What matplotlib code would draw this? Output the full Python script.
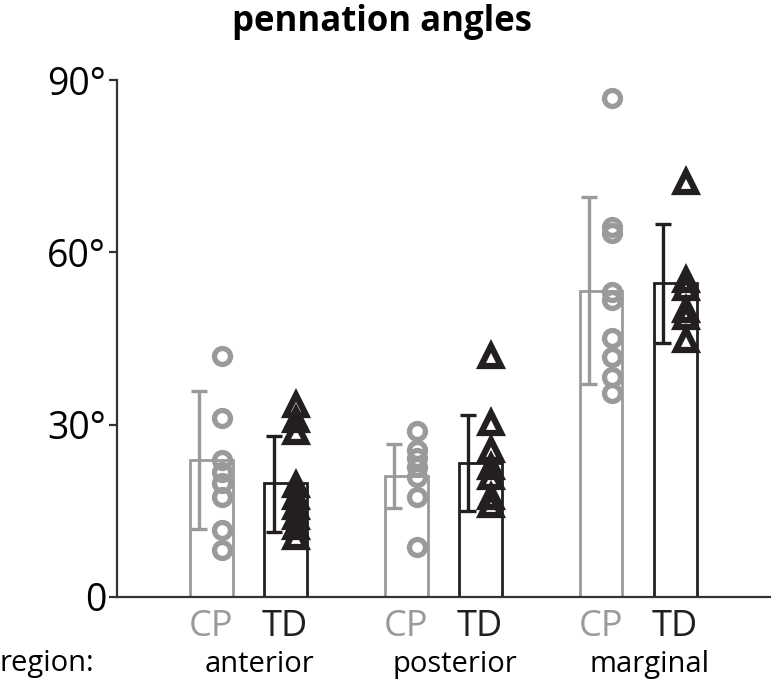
import matplotlib
matplotlib.use("Agg")
import matplotlib.pyplot as plt
import numpy as np

plt.rcParams['font.family'] = ['Open Sans', 'DejaVu Sans']

regions = ['anterior', 'posterior', 'marginal']
groups = ['CP', 'TD']

# bar means and error bar limits (degrees)
cp_mean = [23.8, 21.1, 53.3]
td_mean = [19.8, 23.3, 54.7]
cp_err_hi = [35.9, 26.6, 69.6]
cp_err_lo = [11.8, 15.5, 37.1]
td_err_hi = [28.0, 31.7, 64.9]
td_err_lo = [11.3, 15.0, 44.2]

# individual subjects
cp_points = [
    [42.0, 31.2, 23.9, 21.8, 19.8, 17.4, 11.7, 8.2],
    [28.9, 25.6, 24.2, 22.7, 20.9, 17.4, 8.7],
    [86.9, 64.4, 63.3, 53.1, 51.7, 45.1, 41.8, 38.3, 35.5],
]
td_points = [
    [33.4, 30.8, 28.7, 19.5, 17.4, 15.7, 13.9, 12.2, 10.4],
    [42.0, 30.3, 25.6, 22.7, 20.9, 17.4, 16.0],
    [72.2, 55.2, 53.8, 50.0, 48.8, 44.7],
]

cp_color = '#9a9a9a'
td_color = '#231f20'

fig = plt.figure(figsize=(7.71, 6.85), dpi=100)
ax = fig.add_axes([0.152, 0.1285, 0.848, 0.7545])

x = np.arange(len(regions))
off = 0.19
width = 0.22

for means, lo, hi, pts, sign, col, mk in [
        (cp_mean, cp_err_lo, cp_err_hi, cp_points, -1, cp_color, 'o'),
        (td_mean, td_err_lo, td_err_hi, td_points, 1, td_color, '^')]:
    xs = x + sign * off
    ax.bar(xs, means, width=width, facecolor='white', edgecolor=col, linewidth=2.0, zorder=1)
    means = np.array(means)
    yerr = [means - np.array(lo), np.array(hi) - means]
    ax.errorbar(xs - 0.06, means, yerr=yerr, fmt='none', ecolor=col,
                elinewidth=2.4, capsize=6, capthick=2.4, zorder=2)
    for xi, p in zip(xs, pts):
        ax.plot(np.full(len(p), xi + 0.055), p, linestyle='none', marker=mk,
                markersize=11.5 if mk == 'o' else 14, markerfacecolor='none',
                markeredgecolor=col, markeredgewidth=3.8 if mk == 'o' else 4.5, zorder=3)

ax.set_xlim(-0.672, 2.682)
ax.set_ylim(0, 90)
ax.set_yticks([0, 30, 60, 90])
ax.set_yticklabels(['0', '30°', '60°', '90°'], fontsize=27)
ax.set_xticks([])
for s in ['top', 'right']:
    ax.spines[s].set_visible(False)
for s in ['left', 'bottom']:
    ax.spines[s].set_linewidth(1.6)
    ax.spines[s].set_color('#333333')
ax.tick_params(axis='y', length=6, width=1.6, color='#333333', pad=2)

trans = ax.get_xaxis_transform()
for xi in x:
    ax.text(xi - off, -0.058, 'CP', color=cp_color, fontsize=26, ha='center', va='center', transform=trans)
    ax.text(xi + off, -0.058, 'TD', color=td_color, fontsize=26, ha='center', va='center', transform=trans)
for xi, name in zip(x, regions):
    ax.text(xi + 0.06, -0.13, name, color='black', fontsize=21, ha='center', va='center', transform=trans)
fig.text(0.0, 1 - 664 / 685, 'region:', fontsize=21, ha='left', va='center')

fig.text(382 / 771, 1 - 22 / 685, 'pennation angles', fontsize=25, fontweight='bold', ha='center', va='center')

fig.savefig('out.png', dpi=100)
